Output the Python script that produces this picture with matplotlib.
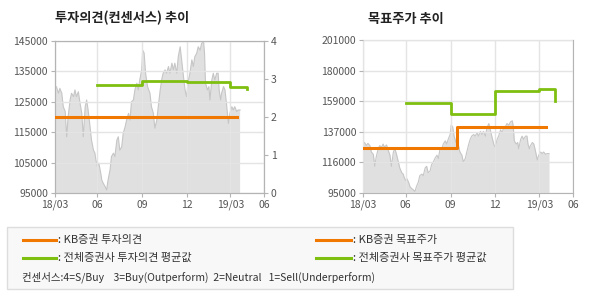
import numpy as np
import matplotlib
matplotlib.use("Agg")
import matplotlib.pyplot as plt
from matplotlib.patches import Rectangle
from matplotlib.lines import Line2D

plt.rcParams['font.family'] = ['Noto Sans CJK KR', 'DejaVu Sans']

# stock price (gray area), shared by both charts; x = days after 2018-03-06
price_days = [
    0, 3, 7, 10, 14, 17, 21, 24, 27, 31, 34, 38, 41, 44, 48, 51, 55, 58, 62, 65,
    68, 72, 75, 79, 82, 84, 87, 90, 94, 96, 99, 103, 106, 109, 113, 116, 120, 123,
    127, 130, 133, 137, 140, 144, 147, 151, 154, 157, 161, 164, 168, 171, 174, 178,
    180, 183, 186, 190, 195, 198, 202,
    205, 209, 212, 216, 219, 222, 226, 229, 233, 236, 240, 243, 246, 250, 253, 257,
    260, 263, 267, 270, 274, 277, 281, 284, 287, 291, 294, 298, 301, 305, 307, 309,
    313, 316, 318, 322, 325, 328, 332, 335, 337, 340, 342, 346, 349, 352, 356, 359,
    363, 366, 369, 373, 376, 380]
price_values = [
    128900, 130000, 127800, 129400, 127800, 123400, 121800, 113500, 120100, 125600,
    127800, 126700, 128900, 126700, 128300, 125000, 121200, 113500, 123400, 125600,
    122300, 116800, 112400, 109100, 108100, 105900, 103700, 104800, 101500, 99300,
    98200, 97100, 96000, 99300, 102600, 107000, 108100, 107000, 112400, 113500,
    109100, 110200, 114600, 116800, 119000, 121200, 119000, 125000, 125600, 128900,
    131100, 128900, 132200, 135500, 142000, 141000, 134400, 130000, 127800, 123400,
    121200,
    116300, 119000, 123400, 128900, 132200, 134400, 135500, 134400, 136600, 134400,
    137700, 135500, 137700, 134400, 139800, 143100, 138800, 134400, 128900, 126700,
    132200, 134400, 138800, 136600, 139800, 141000, 143100, 142000, 144200, 145000,
    141000, 131100, 128900, 130000, 125600, 132200, 134400, 132200, 134400, 134400,
    128900, 125600, 127800, 130000, 128900, 124500, 117900, 121200, 123400, 122300,
    123400, 121800, 122300, 122300]

# 투자의견 (right axis of left chart)
kb_op_dates = np.array(['2018-03-06', '2019-03-15'], dtype='datetime64[D]')
kb_op_values = [2.0, 2.0]
avg_op_dates = np.array(['2018-06-01', '2018-09-01', '2018-12-01', '2019-03-01', '2019-04-05'],
                        dtype='datetime64[D]')
avg_op_values = [2.85, 2.95, 2.93, 2.79, 2.73]

# 목표주가
kb_tp_dates = np.array(['2018-03-06', '2018-09-15', '2019-03-15'], dtype='datetime64[D]')
kb_tp_values = [126000, 141000, 141000]
avg_tp_dates = np.array(['2018-06-01', '2018-09-01', '2018-12-01', '2019-03-01', '2019-04-03'],
                        dtype='datetime64[D]')
avg_tp_values = [157000, 150000, 166000, 167000, 158600]

x_start = np.datetime64('2018-03-06')
x_end = np.datetime64('2019-05-09')
x_ticks = np.array([x_start, '2018-06-01', '2018-09-01', '2018-12-01', '2019-03-01', x_end],
                   dtype='datetime64[D]')
x_labels = ['18/03', '06', '09', '12', '19/03', '06']

left_ticks = [95000, 105000, 115000, 125000, 135000, 145000]
op_ticks = [0, 1, 2, 3, 4]
tp_ticks = [95000 + 21200 * i for i in range(6)]
tp_labels = ['95000', '116000', '137000', '159000', '180000', '201000']

price_dates = x_start + np.array(price_days, dtype='timedelta64[D]')

ORANGE = '#f07800'
GREEN = '#7fbf10'
GRID = '#e4e4e4'
SPINE = '#b4b4b4'
TXT = '#555555'

fig = plt.figure(figsize=(5.9, 3.0), dpi=100)


def style_axes(ax):
    ax.set_xlim(x_start, x_end)
    ax.set_xticks(x_ticks)
    ax.set_xticklabels(x_labels)
    ax.grid(True, color=GRID, linewidth=1.0, zorder=2)
    ax.set_axisbelow(False)
    for s in ax.spines.values():
        s.set_color(SPINE)
    ax.tick_params(colors=SPINE, labelcolor=TXT, labelsize=7.5, length=3, width=0.8, pad=2)


def price_area(ax):
    ax.fill_between(price_dates, price_values, 0, color='#e0e0e0', linewidth=0, zorder=1)
    ax.plot(price_dates, price_values, color='#c6c6c6', linewidth=0.8, zorder=1)


# left chart
ax1 = fig.add_axes([0.0932, 0.3567, 0.3542, 0.5067])
price_area(ax1)
ax1.set_ylim(95000, 145000)
ax1.set_yticks(left_ticks)
style_axes(ax1)

ax1b = ax1.twinx()
ax1b.set_ylim(0, 4)
ax1b.set_yticks(op_ticks)
ax1b.step(kb_op_dates, kb_op_values, where='post', color=ORANGE, linewidth=2.2, zorder=4)
ax1b.step(avg_op_dates, avg_op_values, where='post', color=GREEN, linewidth=2.0, zorder=4)
for s in ax1b.spines.values():
    s.set_color(SPINE)
ax1b.tick_params(colors=SPINE, labelcolor=TXT, labelsize=7.5, length=3, width=0.8, pad=2)
fig.text(0.0932, 0.925, '투자의견(컨센서스) 추이', fontsize=9.5, fontweight='bold', color='#222222')

# right chart
ax2 = fig.add_axes([0.6153, 0.3567, 0.3559, 0.51])
price_area(ax2)
ax2.set_ylim(95000, 201000)
ax2.set_yticks(tp_ticks)
ax2.set_yticklabels(tp_labels)
style_axes(ax2)
ax2.step(kb_tp_dates, kb_tp_values, where='post', color=ORANGE, linewidth=2.2, zorder=4)
ax2.step(avg_tp_dates, avg_tp_values, where='post', color=GREEN, linewidth=2.0, zorder=4)
fig.text(0.6237, 0.925, '목표주가 추이', fontsize=9.5, fontweight='bold', color='#222222')

# legend box
fig.add_artist(Rectangle((0.0119, 0.037), 0.858, 0.207, transform=fig.transFigure,
                         facecolor='#f8f8f8', edgecolor='#dddddd', linewidth=1.0))
legend_items = [
    (0.039, 0.095, 0.2, ORANGE, ': KB증권 투자의견'),
    (0.039, 0.095, 0.14, GREEN, ': 전체증권사 투자의견 평균값'),
    (0.536, 0.595, 0.2, ORANGE, ': KB증권 목표주가'),
    (0.536, 0.595, 0.14, GREEN, ': 전체증권사 목표주가 평균값'),
]
for x0, x1, y, c, label in legend_items:
    fig.add_artist(Line2D([x0, x1], [y, y], transform=fig.transFigure, color=c, linewidth=2.2))
    fig.text(x1 + 0.003, y, label, fontsize=8, color='#333333', va='center')
fig.text(0.037, 0.077,
         '컨센서스:4=S/Buy    3=Buy(Outperform)  2=Neutral   1=Sell(Underperform)',
         fontsize=7.5, color='#333333', va='center')

fig.savefig('out.png', dpi=100)
